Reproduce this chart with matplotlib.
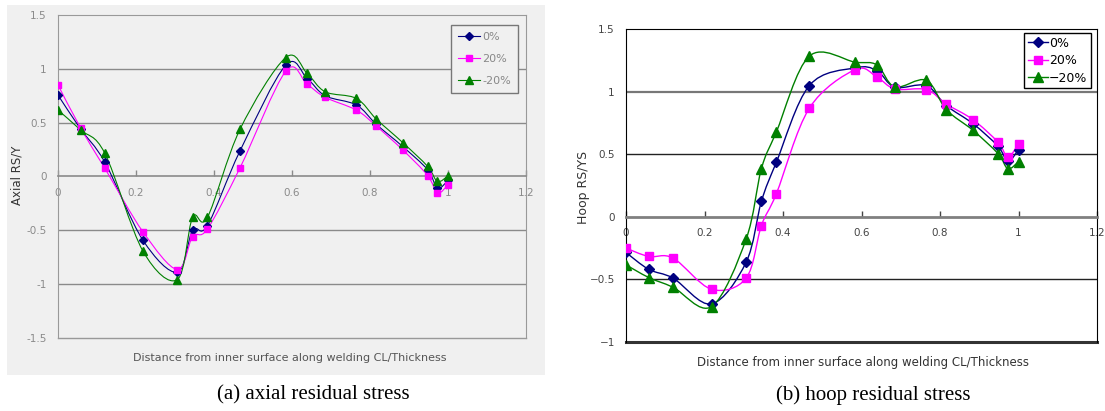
import numpy as np
import matplotlib
matplotlib.use("Agg")
import matplotlib.pyplot as plt
from matplotlib.path import Path
from matplotlib.patches import PathPatch, Rectangle
from matplotlib.lines import Line2D

# distance from inner surface / thickness (same stations in both panels)
depth = [0, 0.058, 0.12, 0.218, 0.306, 0.345, 0.383, 0.467, 0.584, 0.639,
         0.685, 0.765, 0.816, 0.884, 0.948, 0.973, 1.0]

# (a) axial residual stress
axial_0 = [0.756, 0.44, 0.133, -0.593, -0.889, -0.50, -0.457, 0.24, 1.034, 0.91,
           0.75, 0.664, 0.485, 0.278, 0.062, -0.108, -0.037]
axial_p20 = [0.85, 0.45, 0.077, -0.515, -0.864, -0.56, -0.488, 0.083, 0.978, 0.855,
             0.735, 0.617, 0.469, 0.247, 0.009, -0.154, -0.077]
axial_m20 = [0.617, 0.432, 0.216, -0.694, -0.957, -0.38, -0.38, 0.441, 1.105, 0.957,
             0.787, 0.725, 0.534, 0.315, 0.093, -0.046, 0.006]

# (b) hoop residual stress
hoop_0 = [-0.285, -0.42, -0.49, -0.696, -0.363, 0.123, 0.435, 1.048, 1.19, 1.168,
          1.035, 1.048, 0.888, 0.744, 0.563, 0.443, 0.536]
hoop_p20 = [-0.25, -0.317, -0.33, -0.579, -0.49, -0.07, 0.184, 0.867, 1.176, 1.117,
            1.021, 1.016, 0.901, 0.776, 0.595, 0.477, 0.584]
hoop_m20 = [-0.384, -0.485, -0.563, -0.717, -0.179, 0.384, 0.677, 1.283, 1.235, 1.213,
            1.037, 1.091, 0.856, 0.691, 0.504, 0.384, 0.44]

labels = ["0%", "20%", "\u221220%"]
colors = ["#000080", "#ff00ff", "#008000"]
markers = ["D", "s", "^"]

xticks = [0, 0.2, 0.4, 0.6, 0.8, 1, 1.2]
xtick_labels = ["0", "0.2", "0.4", "0.6", "0.8", "1", "1.2"]
axial_yticks = [1.5, 1, 0.5, 0, -0.5, -1, -1.5]
axial_ylabels = ["1.5", "1", "0.5", "0", "-0.5", "-1", "-1.5"]
hoop_yticks = [1.5, 1, 0.5, 0, -0.5, -1]
hoop_ylabels = ["1.5", "1", "0.5", "0", "\u22120.5", "\u22121"]

xlabel = "Distance from inner surface along welding CL/Thickness"


def smooth_path(x, y):
    # Excel-like smoothed line: Catmull-Rom segments as cubic Beziers
    pts = np.column_stack([x, y]).astype(float)
    n = len(pts)
    verts = [pts[0]]
    codes = [Path.MOVETO]
    for i in range(n - 1):
        p0 = pts[i - 1] if i > 0 else pts[i]
        p1, p2 = pts[i], pts[i + 1]
        p3 = pts[i + 2] if i + 2 < n else pts[i + 1]
        verts += [p1 + (p2 - p0) / 6, p2 - (p3 - p1) / 6, p2]
        codes += [Path.CURVE4] * 3
    return Path(verts, codes)


def draw_series(ax, series, lw, msizes):
    for y, c, m, ms in zip(series, colors, markers, msizes):
        ax.add_patch(PathPatch(smooth_path(depth, y), fill=False, edgecolor=c,
                               lw=lw, zorder=3))
        ax.plot(depth, y, linestyle="none", marker=m, ms=ms, color=c,
                markeredgecolor=c, zorder=4)


def setup_axes(ax, ylim, yticks, ylabels, grid_col, frame_col, tick_col, fs, grid_vals):
    ax.set_xlim(0, 1.2)
    ax.set_ylim(*ylim)
    for v in grid_vals:
        ax.axhline(v, color=grid_col, lw=1.0, zorder=1)
    ax.spines["bottom"].set_position(("data", 0))
    for s in ["left", "right", "top"]:
        ax.spines[s].set_color(frame_col)
    ax.set_xticks(xticks)
    ax.set_xticklabels(xtick_labels)
    ax.set_yticks(yticks)
    ax.set_yticklabels(ylabels)
    ax.tick_params(axis="x", direction="in", length=4, width=1, pad=8,
                   labelsize=fs, colors=tick_col)
    ax.tick_params(axis="y", length=0, pad=8, labelsize=fs, colors=tick_col)


fig = plt.figure(figsize=(11.05, 4.11), dpi=100)

# grey backdrop of the scanned left panel
fig.patches.append(Rectangle((7 / 1105, 1 - 375 / 411), 538 / 1105, 370 / 411,
                             transform=fig.transFigure, facecolor="#f0f0f0",
                             edgecolor="none", zorder=-5))

# ---- (a) axial
ax1 = fig.add_axes([58 / 1105, 1 - 338 / 411, 468 / 1105, 323 / 411])
ax1.set_facecolor("#f0f0f0")
setup_axes(ax1, (-1.5, 1.5), axial_yticks, axial_ylabels, "#8a8a8a", "#999999",
           "#8a8a8a", 7.5, [1, 0.5, -0.5, -1])
ax1.spines["bottom"].set_color("#8a8a8a")
ax1.spines["bottom"].set_linewidth(1.2)
ax1.axhline(-1.5, color="#999999", lw=1.0, zorder=1, clip_on=False)
draw_series(ax1, [axial_0, axial_p20, axial_m20], 0.8, [3.8, 4.8, 5.5])
h1 = [Line2D([], [], color=c, marker=m, ms=ms, lw=0.8)
      for c, m, ms in zip(colors, markers, [3.8, 4.8, 5.5])]
leg1 = ax1.legend(h1, ["0%", "20%", "-20%"], loc="upper right",
                  bbox_to_anchor=(1 - 8 / 468, 1 - 10 / 323), borderaxespad=0,
                  fancybox=False, framealpha=1, facecolor="#f0f0f0",
                  edgecolor="#777777", fontsize=8, labelspacing=1.1,
                  handlelength=2.0, handletextpad=0.2, borderpad=0.6)
for t in leg1.get_texts():
    t.set_color("#888888")

fig.text(17 / 1105, 1 - 175 / 411, "Axial RS/Y", rotation=90, ha="center",
         va="center", fontsize=8.5, color="#333333")
fig.text(290 / 1105, 1 - 358 / 411, xlabel, ha="center", va="center",
         fontsize=8, color="#555555")
fig.text(313 / 1105, 1 - 395 / 411, "(a) axial residual stress", ha="center",
         va="center", fontsize=15, family="Liberation Serif")

# ---- (b) hoop
ax2 = fig.add_axes([626 / 1105, 1 - 342 / 411, 471 / 1105, 313 / 411])
setup_axes(ax2, (-1, 1.5), hoop_yticks, hoop_ylabels, "#222222", "#000000",
           "#444444", 7.5, [0.5, -0.5])
ax2.axhline(1, color="#777777", lw=1.6, zorder=1)
ax2.spines["bottom"].set_color("#808080")
ax2.spines["bottom"].set_linewidth(2)
ax2.axhline(-1, color="#333333", lw=2.2, zorder=2, clip_on=False)
draw_series(ax2, [hoop_0, hoop_p20, hoop_m20], 1.0, [4.6, 5.8, 6.5])
h2 = [Line2D([], [], color=c, marker=m, ms=ms, lw=1.0)
      for c, m, ms in zip(colors, markers, [4.6, 5.8, 6.5])]
ax2.legend(h2, labels, loc="upper right",
           bbox_to_anchor=(1 - 6 / 471, 1 - 4 / 313), borderaxespad=0,
           fancybox=False, framealpha=1, edgecolor="#000000", fontsize=9,
           labelspacing=0.35, handlelength=1.6, handletextpad=0.1, borderpad=0.3)

fig.text(584 / 1105, 1 - 187 / 411, "Hoop RS/YS", rotation=90, ha="center",
         va="center", fontsize=9, color="#333333")
fig.text(863 / 1105, 1 - 362 / 411, xlabel, ha="center", va="center",
         fontsize=8.5, color="#333333")
fig.text(873 / 1105, 1 - 395 / 411, "(b) hoop residual stress", ha="center",
         va="center", fontsize=15, family="Liberation Serif")

fig.savefig("out.png", dpi=100)
